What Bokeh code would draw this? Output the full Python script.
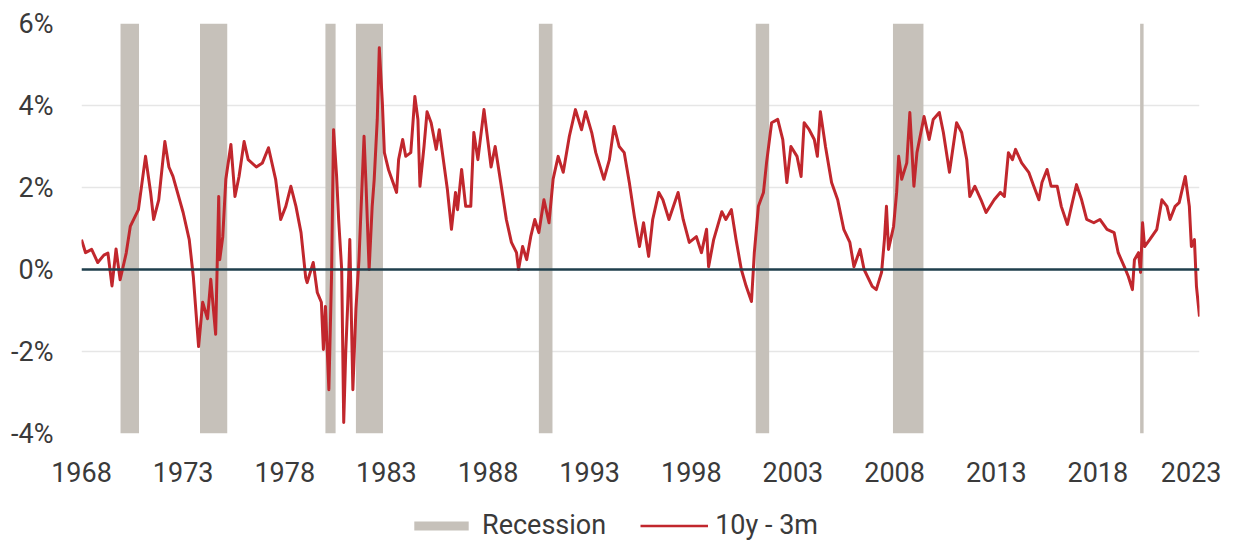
from bokeh.plotting import figure
from bokeh.layouts import column
from bokeh.models import ColumnDataSource, Span, FixedTicker, Legend, LegendItem, Range1d
from bokeh.embed import file_html
from bokeh.resources import INLINE

# ---- data ----
dates = [
    1968.0, 1968.2, 1968.5, 1968.8, 1969.1, 1969.3, 1969.5, 1969.7, 1969.9, 1970.2,
    1970.4, 1970.8, 1971.15, 1971.4, 1971.55, 1971.8, 1972.1, 1972.3, 1972.5, 1973.0,
    1973.3, 1973.5, 1973.76, 1973.96, 1974.2, 1974.36, 1974.6, 1974.75, 1974.8, 1974.95,
    1975.1, 1975.35, 1975.55, 1975.75, 1976.0, 1976.2, 1976.6, 1976.9, 1977.2, 1977.55,
    1977.8, 1978.05, 1978.3, 1978.55, 1978.8, 1979.03, 1979.1, 1979.4, 1979.6, 1979.8,
    1979.9, 1980.0, 1980.17, 1980.3, 1980.4, 1980.55, 1980.65, 1980.8, 1980.9, 1981.0,
    1981.1, 1981.2, 1981.35, 1981.5, 1981.65, 1981.9, 1982.0, 1982.15, 1982.3, 1982.4,
    1982.55, 1982.65, 1982.8, 1982.9, 1983.1, 1983.5, 1983.6, 1983.8, 1983.95, 1984.2,
    1984.4, 1984.55, 1984.65, 1984.85, 1985.0, 1985.2, 1985.45, 1985.6, 1985.8, 1986.0,
    1986.2, 1986.4, 1986.5, 1986.7, 1986.9, 1987.15, 1987.3, 1987.5, 1987.8, 1988.0,
    1988.15, 1988.35, 1988.6, 1988.9, 1989.15, 1989.4, 1989.5, 1989.7, 1989.9, 1990.1,
    1990.3, 1990.5, 1990.75, 1991.0, 1991.2, 1991.45, 1991.7, 1992.0, 1992.3, 1992.6,
    1992.8, 1993.1, 1993.3, 1993.7, 1993.97, 1994.2, 1994.45, 1994.7, 1994.95, 1995.2,
    1995.45, 1995.65, 1995.9, 1996.1, 1996.4, 1996.6, 1996.9, 1997.35, 1997.6, 1997.9,
    1998.25, 1998.5, 1998.75, 1998.85, 1999.1, 1999.5, 1999.7, 1999.97, 2000.2, 2000.46,
    2000.7, 2000.96, 2001.1, 2001.3, 2001.55, 2001.7, 2001.95, 2002.25, 2002.5, 2002.7,
    2002.9, 2003.2, 2003.4, 2003.55, 2003.8, 2004.05, 2004.2, 2004.35, 2004.6, 2004.9,
    2005.2, 2005.5, 2005.8, 2006.0, 2006.3, 2006.5, 2006.9, 2007.1, 2007.36, 2007.5,
    2007.6, 2007.7, 2007.95, 2008.1, 2008.2, 2008.35, 2008.6, 2008.75, 2008.95, 2009.1,
    2009.45, 2009.7, 2009.9, 2010.2, 2010.4, 2010.7, 2011.05, 2011.3, 2011.55, 2011.7,
    2011.95, 2012.25, 2012.5, 2012.9, 2013.2, 2013.4, 2013.6, 2013.8, 2013.95, 2014.25,
    2014.6, 2014.85, 2015.1, 2015.25, 2015.5, 2015.7, 2016.0, 2016.2, 2016.5, 2016.7,
    2016.95, 2017.2, 2017.45, 2017.8, 2018.1, 2018.45, 2018.8, 2019.0, 2019.3, 2019.5,
    2019.7, 2019.8, 2020.0, 2020.1, 2020.2, 2020.3, 2020.55, 2020.9, 2021.15, 2021.4,
    2021.55, 2021.8, 2022.0, 2022.3, 2022.5, 2022.6, 2022.75, 2022.85, 2023.0,
]
spread = [
    0.73, 0.41, 0.49, 0.17, 0.35, 0.40, -0.40, 0.50, -0.25, 0.40,
    1.05, 1.46, 2.76, 1.88, 1.22, 1.70, 3.12, 2.50, 2.27, 1.39,
    0.73, -0.17, -1.88, -0.80, -1.20, -0.24, -1.58, 1.78, 0.24, 0.80,
    2.20, 3.05, 1.78, 2.27, 3.12, 2.68, 2.50, 2.60, 2.97, 2.20,
    1.22, 1.54, 2.03, 1.54, 0.90, -0.20, -0.32, 0.17, -0.56, -0.80,
    -1.95, -0.90, -2.93, -0.17, 3.41, 2.27, 1.22, 0.00, -3.73, -2.00,
    -0.80, 0.73, -2.93, -0.97, 0.24, 3.25, 2.03, 0.00, 1.54, 2.20,
    3.66, 5.41, 4.07, 2.85, 2.44, 1.88, 2.68, 3.17, 2.76, 2.85,
    4.22, 3.66, 2.03, 3.00, 3.85, 3.58, 2.93, 3.41, 2.68, 1.95,
    0.98, 1.88, 1.46, 2.44, 1.54, 1.54, 3.34, 2.68, 3.90, 3.10,
    2.50, 3.00, 2.20, 1.22, 0.66, 0.41, 0.00, 0.56, 0.24, 0.80,
    1.22, 0.90, 1.70, 1.14, 2.20, 2.76, 2.37, 3.25, 3.90, 3.41,
    3.85, 3.34, 2.85, 2.20, 2.68, 3.49, 3.00, 2.85, 2.12, 1.29,
    0.56, 1.14, 0.32, 1.22, 1.88, 1.70, 1.22, 1.88, 1.22, 0.66,
    0.80, 0.41, 0.98, 0.07, 0.73, 1.41, 1.22, 1.46, 0.73, 0.00,
    -0.41, -0.78, 0.41, 1.54, 1.88, 2.60, 3.58, 3.66, 3.17, 2.12,
    3.00, 2.76, 2.27, 3.58, 3.41, 3.17, 2.76, 3.85, 3.00, 2.12,
    1.70, 0.98, 0.66, 0.07, 0.49, 0.00, -0.41, -0.49, -0.07, 0.73,
    1.54, 0.49, 1.05, 1.88, 2.76, 2.20, 2.60, 3.83, 2.03, 2.85,
    3.73, 3.17, 3.66, 3.83, 3.34, 2.37, 3.58, 3.34, 2.68, 1.78,
    2.03, 1.70, 1.39, 1.70, 1.88, 1.78, 2.85, 2.68, 2.93, 2.60,
    2.37, 2.03, 1.70, 2.12, 2.44, 2.03, 2.03, 1.54, 1.10, 1.54,
    2.07, 1.70, 1.22, 1.14, 1.22, 0.98, 0.90, 0.41, 0.07, -0.17,
    -0.49, 0.24, 0.41, -0.07, 1.14, 0.56, 0.73, 0.98, 1.70, 1.54,
    1.22, 1.54, 1.63, 2.27, 1.54, 0.56, 0.73, -0.41, -1.15,
]
rec_start = [1969.92, 1973.83, 1980.0, 1981.5, 1990.5, 2001.17, 2007.92, 2020.08]
rec_end = [1970.83, 1975.17, 1980.5, 1982.83, 1991.17, 2001.83, 2009.42, 2020.25]
x_ticks = [1968, 1973, 1978, 1983, 1988, 1993, 1998, 2003, 2008, 2013, 2018, 2023]
y_ticks = [-4, -2, 0, 2, 4, 6]
y_labels = ["-4%", "-2%", "0%", "2%", "4%", "6%"]
legend_labels = ["Recession", "10y - 3m"]

FONT = "Roboto"
FS = "27px"
TXT = "#3a3a3a"
REC_COLOR = "#c6c1ba"
LINE_COLOR = "#c1272d"

W = 1221
p = figure(width=W, height=490, output_backend="svg", toolbar_location=None,
           x_range=Range1d(1968, 2023), y_range=Range1d(-4, 6),
           min_border_left=81, min_border_right=22, min_border_top=23,
           min_border_bottom=57)
p.outline_line_color = None

rec_src = ColumnDataSource(dict(left=rec_start, right=rec_end,
                                bottom=[y_ticks[0]] * len(rec_start),
                                top=[y_ticks[-1]] * len(rec_start)))
p.quad(left="left", right="right", bottom="bottom", top="top", source=rec_src,
       fill_color=REC_COLOR, line_color=None)

zero = Span(location=0, dimension="width", line_color="#1f3f4d", line_width=2.5)
p.add_layout(zero)

line_src = ColumnDataSource(dict(x=dates, y=spread))
p.line("x", "y", source=line_src, line_color=LINE_COLOR, line_width=3.0,
       line_join="round")

p.xgrid.visible = False
p.ygrid.ticker = FixedTicker(ticks=y_ticks)
p.ygrid.grid_line_color = "#e6e6e6"
p.ygrid.grid_line_width = 1.5

p.xaxis.ticker = FixedTicker(ticks=x_ticks)
p.yaxis.ticker = FixedTicker(ticks=y_ticks)
p.yaxis.major_label_overrides = {t: l for t, l in zip(y_ticks, y_labels)}
p.xaxis.major_label_overrides = {t: str(t) for t in x_ticks}
for ax in (p.xaxis, p.yaxis):
    ax.axis_line_color = None
    ax.major_tick_line_color = None
    ax.minor_tick_line_color = None
    ax.major_tick_out = 0
    ax.major_tick_in = 0
    ax.major_label_text_font = FONT
    ax.major_label_text_font_size = FS
    ax.major_label_text_color = TXT
p.xaxis.major_label_standoff = 28
p.yaxis.major_label_standoff = 28

# ---- legend strip below the chart (legend proxies use the same data, out of view) ----
lg = figure(width=W, height=51, output_backend="svg", toolbar_location=None,
            x_range=Range1d(0, 1), y_range=Range1d(0, 1),
            min_border=0, x_axis_type=None, y_axis_type=None)
lg.outline_line_color = None
lg.xgrid.visible = False
lg.ygrid.visible = False
rq = lg.quad(left="left", right="right", bottom="bottom", top="top", source=rec_src,
             fill_color=REC_COLOR, line_color=None)
rl = lg.line("x", "y", source=line_src, line_color=LINE_COLOR, line_width=2.4)

legend = Legend(items=[LegendItem(label=legend_labels[0], renderers=[rq]),
                       LegendItem(label=legend_labels[1], renderers=[rl])],
                orientation="horizontal", location=(326, 0),
                glyph_width=68, glyph_height=11, label_standoff=7, spacing=34,
                label_text_font=FONT, label_text_font_size=FS,
                label_text_color=TXT, border_line_color=None,
                background_fill_alpha=0, margin=0, padding=0)
lg.add_layout(legend)

open("out.html", "w").write(file_html(column(p, lg, spacing=0), INLINE))
